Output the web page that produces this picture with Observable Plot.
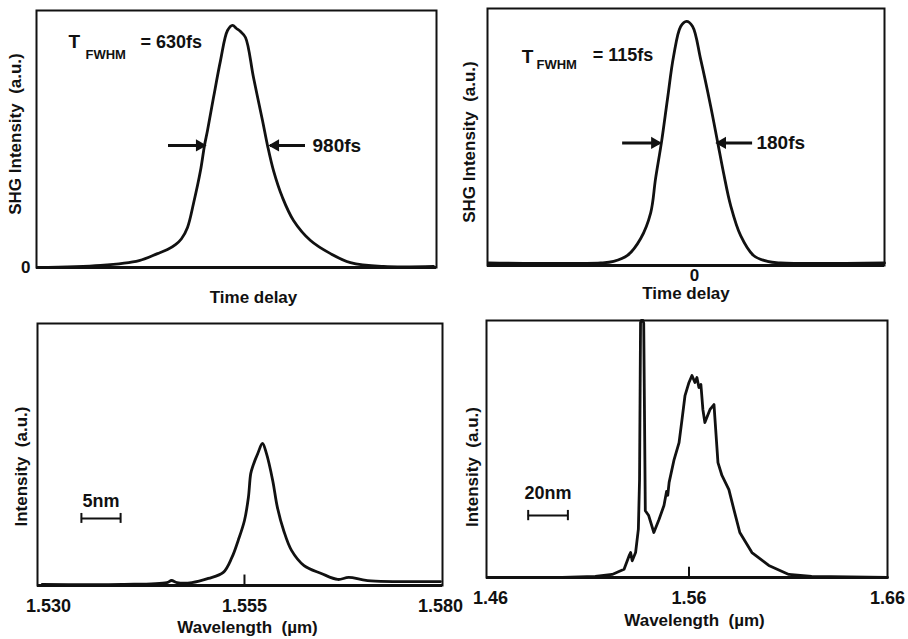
<!DOCTYPE html>
<html><head><meta charset="utf-8">
<script src="https://cdn.jsdelivr.net/npm/d3@7"></script>
<script src="https://cdn.jsdelivr.net/npm/@observablehq/plot@0.6"></script>
<style>
body{margin:0;background:#fff;}
#wrap{position:relative;width:908px;height:639px;overflow:hidden;background:#fff;}
.panel{position:absolute;}
.panel svg{overflow:visible;}
</style></head><body><div id="wrap"></div>
<script>
// ---------- DATA ----------
// (a) SHG autocorrelation, T_FWHM = 630 fs (delay in fs relative to 0)
const delayA = [-2925,-1980,-1400,-1125,-975,-855,-765,-675,-585,-480,-420,-375,-285,-180,-75,0,60,120,195,315,450,525,615,750,915,1170,1470,1770,2265,3015];
const shgA   = [0.0,0.008,0.027,0.054,0.070,0.089,0.112,0.156,0.249,0.377,0.475,0.533,0.661,0.805,0.922,0.942,0.930,0.918,0.895,0.739,0.572,0.475,0.377,0.272,0.183,0.105,0.054,0.019,0.004,0.004];
// (b) SHG autocorrelation, T_FWHM = 115 fs
const delayB = [-639,-291,-251,-208,-167,-136,-121,-102,-84,-65,-43,-25,-6,19,50,71,90,112,143,183,226,267,589];
const shgB   = [0.010,0.010,0.016,0.039,0.105,0.205,0.337,0.484,0.647,0.814,0.930,0.950,0.930,0.802,0.620,0.484,0.360,0.233,0.116,0.039,0.016,0.010,0.010];
// (c) spectrum, narrow (µm)
const waveC = [1.5292,1.5394,1.5451,1.5457,1.5464,1.5483,1.5504,1.5523,1.5534,1.5542,1.5550,1.5555,1.5558,1.5561,1.5567,1.5573,1.5578,1.5586,1.5592,1.5600,1.5610,1.5626,1.5648,1.5669,1.5683,1.5707,1.5800];
const specC = [0.004,0.004,0.011,0.019,0.011,0.011,0.027,0.050,0.107,0.172,0.248,0.336,0.427,0.458,0.504,0.542,0.504,0.401,0.298,0.210,0.134,0.076,0.046,0.023,0.031,0.019,0.015];
// (d) spectrum, broadened (µm)
const waveD = [1.4585,1.4962,1.5128,1.5213,1.5273,1.5298,1.5306,1.5314,1.5331,1.5345,1.5351,1.5356,1.5360,1.5368,1.5372,1.5380,1.5397,1.5423,1.5449,1.5474,1.5487,1.5493,1.5500,1.5525,1.5550,1.5565,1.5580,1.5600,1.5615,1.5630,1.5640,1.5650,1.5660,1.5670,1.5680,1.5706,1.5726,1.5731,1.5746,1.5766,1.5801,1.5826,1.5856,1.5917,1.6002,1.6103,1.6218,1.6600];
const specD = [0,0,0.004,0.012,0.032,0.084,0.097,0.065,0.097,0.188,0.382,0.992,1.0,1.0,0.99,0.26,0.241,0.175,0.226,0.280,0.335,0.320,0.370,0.459,0.525,0.615,0.708,0.759,0.786,0.759,0.778,0.739,0.751,0.654,0.603,0.654,0.673,0.615,0.447,0.397,0.342,0.265,0.175,0.097,0.047,0.012,0.004,0];
// tick labels
const ticksC = [1.530, 1.555, 1.580];
const ticksD = [1.46, 1.56, 1.66];
const ticksB = [0];
const ticksA_y = [0];

// ---------- DRAWING ----------
const FONT = "'Liberation Sans', Arial, Helvetica, sans-serif";
const INK = "#111";
const wrap = document.getElementById("wrap");
function place(svg, left, top) {
  const d = document.createElement("div");
  d.className = "panel"; d.style.left = left + "px"; d.style.top = top + "px";
  d.appendChild(svg); wrap.appendChild(d);
}
const style = {fontFamily: FONT, fontWeight: "bold", fontSize: "17px", color: INK, background: "transparent", overflow: "visible"};
const zipXY = (xs, ys) => xs.map((x, i) => ({x, y: ys[i]}));
const txt = (s, o) => Plot.text([s], {text: d => d, fill: INK, fontWeight: "bold", ...o});
const yLabel = (s, dx, dy) => txt(s, {frameAnchor: "left", rotate: -90, textAnchor: "middle", lineAnchor: "middle", dx, dy, fontSize: 17});
const xLabel = (s, dx, dy) => txt(s, {frameAnchor: "bottom", textAnchor: "middle", lineAnchor: "middle", dx, dy, fontSize: 17});

function arrowMarks(arrs) {
  return [
    Plot.ruleY(arrs, {x1: "x1", x2: "x2", y: "y", stroke: INK, strokeWidth: 3}),
    Plot.dot(arrs.filter(a => a.x2 > a.x1), {x: "x2", y: "y", symbol: "triangle", rotate: 90, r: 4.6, dx: -5, fill: INK, stroke: null}),
    Plot.dot(arrs.filter(a => a.x2 < a.x1), {x: "x2", y: "y", symbol: "triangle", rotate: -90, r: 4.6, dx: 5, fill: INK, stroke: null})
  ];
}
function scaleBar(x1, x2, y, h, label, ly) {
  return [
    Plot.ruleY([y], {x1, x2, stroke: INK, strokeWidth: 2}),
    Plot.ruleX([x1, x2], {y1: y - h, y2: y + h, stroke: INK, strokeWidth: 2}),
    txt(label, {x: (x1 + x2) / 2, y: ly, fontSize: 18})
  ];
}

// Panel A (top-left)
place(Plot.plot({
  width: 454, height: 310, marginLeft: 36, marginRight: 18, marginTop: 10, marginBottom: 43,
  style,
  x: {domain: [-2940, 3060], axis: null},
  y: {domain: [0, 1]},
  marks: [
    Plot.frame({stroke: INK, strokeWidth: 2}),
    Plot.ruleY([0], {stroke: INK, strokeWidth: 3}),
    Plot.axisY({ticks: ticksA_y, tickFormat: d => String(d), tickSize: 0, tickPadding: 6, label: null, fontSize: 17}),
    Plot.line(zipXY(delayA, shgA), {x: "x", y: "y", curve: "catmull-rom", stroke: INK, strokeWidth: 2.8}),
    ...arrowMarks([{x1: -960, x2: -420, y: 0.475}, {x1: 1095, x2: 570, y: 0.475}]),
    txt("980fs", {x: 1200, y: 0.475, textAnchor: "start", fontSize: 19}),
    txt("T", {x: -2460, y: 0.856, textAnchor: "start", lineAnchor: "bottom", fontSize: 19}),
    txt("FWHM", {x: -2205, y: 0.813, textAnchor: "start", lineAnchor: "bottom", fontSize: 13}),
    txt("= 630fs", {x: -1380, y: 0.856, textAnchor: "start", lineAnchor: "bottom", fontSize: 18}),
    yLabel("SHG Intensity  (a.u.)", -21, -5),
    xLabel("Time delay", 17, 30)
  ]
}), 0, 0);

// Panel B (top-right)
place(Plot.plot({
  width: 454, height: 310, marginLeft: 33, marginRight: 24, marginTop: 8, marginBottom: 45,
  style,
  x: {domain: [-642, 589]},
  y: {domain: [0, 1], axis: null},
  marks: [
    Plot.frame({stroke: INK, strokeWidth: 2}),
    Plot.ruleY([0], {stroke: INK, strokeWidth: 3}),
    Plot.axisX({ticks: ticksB, tickFormat: d => String(d), tickSize: 0, tickPadding: 3, label: null, fontSize: 17}),
    Plot.line(zipXY(delayB, shgB), {x: "x", y: "y", curve: "catmull-rom", stroke: INK, strokeWidth: 2.8}),
    ...arrowMarks([{x1: -223, x2: -108, y: 0.477}, {x1: 180, x2: 71, y: 0.477}]),
    txt("180fs", {x: 192, y: 0.477, textAnchor: "start", fontSize: 19}),
    txt("T", {x: -536, y: 0.787, textAnchor: "start", lineAnchor: "bottom", fontSize: 19}),
    txt("FWHM", {x: -490, y: 0.764, textAnchor: "start", lineAnchor: "bottom", fontSize: 13}),
    txt("= 115fs", {x: -316, y: 0.795, textAnchor: "start", lineAnchor: "bottom", fontSize: 18}),
    yLabel("SHG Intensity  (a.u.)", -17.5, 5),
    xLabel("Time delay", 0, 28)
  ]
}), 454, 0);

// Panel C (bottom-left)
place(Plot.plot({
  width: 454, height: 329, marginLeft: 37, marginRight: 12, marginTop: 13, marginBottom: 54,
  style,
  x: {domain: [1.5286, 1.58026]},
  y: {domain: [0, 1], axis: null},
  marks: [
    Plot.frame({stroke: INK, strokeWidth: 2}),
    Plot.ruleY([0], {stroke: INK, strokeWidth: 3}),
    Plot.axisX({ticks: ticksC, tickFormat: d => d.toFixed(3), tickSize: 0, tickPadding: 14, label: null, fontSize: 18}),
    Plot.ruleX([1.555], {y1: 0, y2: 0.04, stroke: INK, strokeWidth: 2}),
    Plot.line(zipXY(waveC, specC), {x: "x", y: "y", curve: "catmull-rom", stroke: INK, strokeWidth: 2.8}),
    ...scaleBar(1.5342, 1.5392, 0.256, 0.019, "5nm", 0.32),
    yLabel("Intensity  (a.u.)", -15.5, 12),
    xLabel("Wavelength  (µm)", 7.5, 42)
  ]
}), 0, 310);

// Panel D (bottom-right)
place(Plot.plot({
  width: 454, height: 329, marginLeft: 32, marginRight: 21, marginTop: 10, marginBottom: 62,
  style,
  x: {domain: [1.458, 1.66]},
  y: {domain: [0, 1], axis: null},
  marks: [
    Plot.frame({stroke: INK, strokeWidth: 2}),
    Plot.ruleY([0], {stroke: INK, strokeWidth: 3}),
    Plot.axisX({ticks: ticksD, tickFormat: d => d.toFixed(2), tickSize: 0, tickPadding: 14, label: null, fontSize: 18}),
    Plot.ruleX([1.56], {y1: 0, y2: 0.04, stroke: INK, strokeWidth: 2}),
    Plot.line(zipXY(waveD, specD), {x: "x", y: "y", curve: "linear", stroke: INK, strokeWidth: 2.8}),
    ...scaleBar(1.479, 1.499, 0.241, 0.02, "20nm", 0.327),
    yLabel("Intensity  (a.u.)", -13.5, 18),
    xLabel("Wavelength  (µm)", 7.5, 43)
  ]
}), 454, 310);
</script></body></html>
